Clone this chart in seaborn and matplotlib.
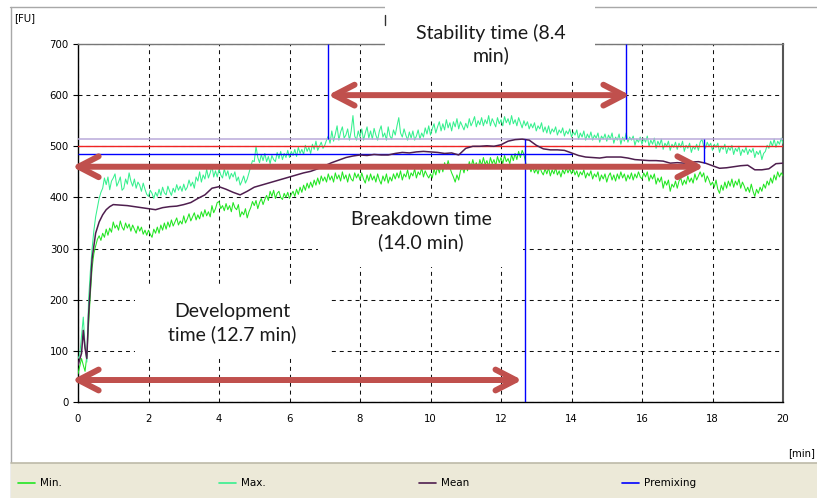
import numpy as np
import pandas as pd
import matplotlib
matplotlib.use("Agg")
import matplotlib.pyplot as plt
import seaborn as sns
from matplotlib.lines import Line2D
from matplotlib.patches import Rectangle

# ---------------- data ----------------
SAMPLE_STEP = 0.05  # minutes between Min./Max. samples

max_vals = [
    85, 92, 130, 166, 110, 78, 200, 255, 300, 335, 362, 380, 398, 410, 418, 438, 425, 440, 415, 432,        # 0
    438, 446, 422, 430, 440, 414, 418, 436, 426, 448, 432, 422, 436, 418, 430, 424, 412, 428, 416, 406,     # 1
    402, 414, 408, 398, 410, 402, 416, 404, 420, 409, 405, 422, 412, 404, 418, 410, 425, 414, 422, 412,     # 2
    426, 414, 420, 434, 422, 430, 418, 440, 432, 450, 430, 444, 436, 455, 438, 448, 462, 440, 452, 440,     # 3
    455, 444, 438, 456, 442, 452, 436, 447, 440, 450, 432, 440, 424, 432, 442, 428, 436, 448, 460, 472,     # 4
    470, 500, 478, 468, 484, 472, 486, 470, 480, 466, 482, 474, 470, 488, 476, 490, 474, 486, 478, 492,     # 5
    478, 490, 482, 494, 480, 498, 486, 494, 484, 502, 490, 498, 486, 504, 494, 510, 492, 500, 508, 496,     # 6
    502, 512, 520, 506, 530, 510, 524, 540, 512, 528, 538, 516, 522, 534, 512, 530, 560, 520, 512, 530,     # 7
    518, 534, 512, 526, 538, 516, 530, 514, 535, 522, 512, 530, 540, 518, 526, 512, 538, 520, 514, 532,     # 8
    522, 540, 556, 526, 518, 534, 522, 512, 528, 516, 530, 512, 520, 532, 514, 526, 518, 536, 524, 540,     # 9
    522, 534, 544, 526, 538, 548, 530, 544, 532, 552, 536, 546, 530, 548, 538, 554, 534, 548, 540, 532,     # 10
    545, 536, 554, 540, 548, 558, 538, 550, 542, 556, 540, 552, 544, 560, 540, 554, 546, 538, 556, 544,     # 11
    552, 540, 558, 546, 554, 542, 560, 544, 552, 540, 556, 546, 536, 550, 540, 548, 534, 544, 536, 546,     # 12
    530, 540, 534, 546, 528, 538, 526, 540, 524, 534, 528, 538, 522, 532, 526, 536, 520, 530, 524, 534,     # 13
    518, 528, 522, 532, 514, 526, 518, 530, 512, 524, 516, 528, 512, 522, 516, 526, 508, 520, 514, 524,     # 14
    510, 522, 514, 526, 506, 518, 512, 524, 504, 518, 510, 526, 508, 518, 512, 520, 502, 514, 508, 518,     # 15
    504, 516, 508, 520, 500, 512, 504, 516, 496, 510, 502, 514, 494, 506, 500, 510, 492, 504, 498, 508,     # 16
    494, 506, 498, 510, 490, 502, 496, 506, 488, 500, 494, 504, 492, 508, 514, 500, 496, 508, 500, 506,     # 17
    492, 504, 498, 506, 488, 500, 494, 504, 486, 498, 492, 502, 484, 496, 490, 500, 482, 494, 488, 498,     # 18
    484, 494, 488, 496, 478, 490, 484, 492, 474, 486, 490, 502, 496, 510, 500, 514, 498, 510, 504, 516,     # 19
    505,
]

min_vals = [
    55, 70, 85, 72, 60, 90, 150, 210, 262, 290, 305, 318, 325, 316, 330, 322, 338, 326, 340, 332,           # 0
    352, 340, 346, 336, 354, 342, 336, 350, 340, 348, 334, 346, 338, 330, 344, 334, 342, 328, 336, 326,     # 1
    336, 328, 322, 338, 330, 342, 330, 346, 336, 350, 338, 352, 342, 356, 344, 352, 360, 346, 354, 348,     # 2
    364, 350, 358, 368, 354, 362, 370, 356, 366, 358, 372, 362, 376, 364, 372, 362, 384, 370, 378, 390,     # 3
    392, 378, 384, 374, 388, 376, 384, 372, 390, 380, 376, 386, 362, 372, 366, 378, 360, 372, 380, 392,     # 4
    384, 394, 378, 390, 398, 386, 396, 404, 394, 412, 402, 414, 398, 408, 412, 400, 396, 408, 400, 410,     # 5
    398, 406, 412, 402, 416, 406, 420, 410, 424, 414, 428, 418, 430, 420, 434, 424, 438, 426, 442, 432,     # 6
    440, 430, 446, 434, 442, 430, 448, 436, 444, 432, 450, 436, 444, 430, 446, 436, 432, 448, 438, 446,     # 7
    434, 448, 436, 428, 444, 432, 446, 434, 442, 430, 446, 434, 426, 442, 432, 446, 428, 440, 432, 446,     # 8
    436, 448, 438, 452, 434, 446, 440, 454, 436, 448, 442, 456, 438, 450, 444, 458, 440, 452, 444, 438,     # 9
    446, 438, 456, 444, 460, 448, 464, 450, 468, 456, 472, 458, 448, 440, 430, 444, 434, 452, 460, 448,     # 10
    464, 452, 470, 458, 474, 460, 468, 456, 474, 462, 478, 464, 472, 460, 478, 466, 474, 462, 480, 468,     # 11
    478, 466, 482, 470, 476, 466, 484, 472, 486, 474, 490, 478, 492, 484, 468, 456, 462, 450, 460, 448,     # 12
    456, 446, 460, 450, 444, 456, 446, 458, 442, 454, 446, 458, 444, 452, 440, 454, 446, 458, 448, 456,     # 13
    446, 456, 444, 452, 440, 450, 444, 454, 438, 448, 442, 452, 436, 446, 440, 450, 432, 444, 436, 446,     # 14
    430, 442, 448, 434, 444, 432, 446, 436, 450, 438, 446, 432, 444, 436, 448, 434, 446, 438, 450, 440,     # 15
    436, 448, 440, 450, 432, 444, 436, 446, 426, 438, 430, 440, 418, 432, 424, 434, 412, 426, 420, 432,     # 16
    418, 432, 438, 424, 434, 426, 442, 430, 438, 428, 446, 434, 442, 450, 440, 448, 430, 442, 434, 424,     # 17
    430, 420, 434, 416, 408, 424, 414, 430, 418, 432, 422, 436, 420, 432, 424, 436, 418, 430, 422, 412,     # 18
    420, 410, 426, 412, 402, 416, 408, 420, 412, 426, 418, 432, 424, 438, 428, 444, 434, 450, 440, 448,     # 19
    442,
]

mean_t = [0.0, 0.1, 0.15, 0.2, 0.25, 0.3, 0.4, 0.5, 0.6, 0.7, 0.8, 0.9, 1.0,
          1.2, 1.4, 1.6, 1.8, 2.0, 2.2, 2.4, 2.6, 2.8, 3.0, 3.2, 3.4, 3.6, 3.8,
          4.0, 4.2, 4.4, 4.6, 4.8, 5.0, 5.2, 5.4, 5.6, 5.8, 6.0, 6.2, 6.4, 6.6,
          6.8, 7.0, 7.2, 7.4, 7.6, 7.8, 8.0, 8.2, 8.4, 8.6, 8.8, 9.0, 9.2, 9.4,
          9.6, 9.8, 10.0, 10.2, 10.4, 10.6, 10.8, 11.0, 11.2, 11.4, 11.6, 11.8,
          12.0, 12.2, 12.4, 12.6, 12.8, 13.0, 13.2, 13.4, 13.6, 13.8, 14.0,
          14.2, 14.4, 14.6, 14.8, 15.0, 15.2, 15.4, 15.6, 15.8, 16.0, 16.2,
          16.4, 16.6, 16.8, 17.0, 17.2, 17.4, 17.6, 17.8, 18.0, 18.2, 18.4,
          18.6, 18.8, 19.0, 19.2, 19.4, 19.6, 19.8, 20.0]
mean_vals = [72, 95, 140, 105, 85, 170, 280, 330, 352, 366, 376, 382, 386,
             385, 384, 382, 380, 378, 376, 380, 382, 383, 386, 390, 398, 405, 418,
             421, 416, 410, 405, 412, 420, 424, 428, 432, 436, 440, 444, 448, 451,
             456, 462, 468, 473, 478, 481, 483, 482, 484, 483, 483, 486, 488, 487,
             489, 490, 489, 488, 486, 487, 483, 496, 500, 500, 501, 500,
             503, 510, 513, 514, 512, 502, 495, 493, 493, 492, 487,
             482, 479, 478, 477, 479, 479, 479, 477, 474, 473, 472,
             472, 471, 467, 468, 467, 469, 470, 467, 462, 457, 458,
             460, 462, 463, 454, 454, 456, 466, 467]

series_names = ["Min.", "Max.", "Mean", "Premixing"]
series_colors = ["#22E622", "#36F08E", "#4E1E4E", "#0000FF"]

# reference levels [FU]
level_values = [515, 500, 485]
level_colors = ["#B9A9DA", "#F02424", "#0000FF"]
premix_level_end = 14.0

# vertical markers: (time, from FU, to FU)
marker_times = [7.09, 15.56, 12.68, 17.76]
marker_from = [515, 515, 0, 467]
marker_to = [700, 700, 515, 515]

# annotated intervals: start, end, height
arrow_start = [7.09, -0.17, -0.17]
arrow_end = [15.66, 17.76, 12.6]
arrow_level = [600, 460, 43]
arrow_labels = ["Stability time (8.4\nmin)", "Breakdown time\n(14.0 min)",
                "Development\ntime (12.7 min)"]

x_ticks = list(range(0, 21, 2))
y_ticks = list(range(0, 701, 100))

# ---------------- figure ----------------
sns.set_style("white")
plt.rcParams['font.family'] = ['DejaVu Sans']

W, H = 817, 498
fig = plt.figure(figsize=(W / 100, H / 100), dpi=100)
fig.patch.set_facecolor("white")


def fx(px):
    return px / W


def fy(py):
    return 1 - py / H


ax = fig.add_axes([fx(78), fy(402), 705 / W, 358 / H])
ax.set_facecolor("white")

t_grid = np.round(np.arange(len(max_vals)) * SAMPLE_STEP, 2)
df = pd.DataFrame({"t": t_grid, "Min.": min_vals, "Max.": max_vals})
dfm = pd.DataFrame({"t": mean_t, "Mean": mean_vals})

sns.lineplot(data=df, x="t", y="Min.", color=series_colors[0], linewidth=0.75,
             ax=ax, zorder=3)
sns.lineplot(data=df, x="t", y="Max.", color=series_colors[1], linewidth=0.75,
             ax=ax, zorder=3)

# reference levels
ax.axhline(level_values[0], color=level_colors[0], linewidth=1.1, zorder=4)
ax.axhline(level_values[1], color=level_colors[1], linewidth=1.0, zorder=4)
ax.hlines(level_values[2], 0, premix_level_end, color=level_colors[2],
          linewidth=1.0, zorder=4)

sns.lineplot(data=dfm, x="t", y="Mean", color=series_colors[2], linewidth=1.1,
             ax=ax, zorder=5)

ax.vlines(marker_times, marker_from, marker_to, color="#0000FF", linewidth=1.0,
          zorder=6)

ax.set_xlim(0, 20)
ax.set_ylim(0, 700)
ax.set_xticks(x_ticks)
ax.set_yticks(y_ticks)
ax.set_xlabel("")
ax.set_ylabel("")
ax.grid(True, color="#111111", linestyle=(0, (3.8, 3.8)), linewidth=0.75)
ax.set_axisbelow(True)
ax.tick_params(axis="y", length=3.6, width=0.8, color="black", pad=3,
               labelsize=7.3, labelcolor="black", direction="out", left=True)
ax.tick_params(axis="x", length=0, pad=8.5, labelsize=7.3, labelcolor="black")

for s in ["left", "bottom"]:
    ax.spines[s].set_color("black")
    ax.spines[s].set_linewidth(1.0)
ax.spines["top"].set_color("#777777")
ax.spines["top"].set_linewidth(1.0)
ax.spines["right"].set_color("#555555")
ax.spines["right"].set_linewidth(1.5)

# interval arrows
for x0, x1, yv in zip(arrow_start, arrow_end, arrow_level):
    ax.annotate("", xy=(x1, yv), xytext=(x0, yv),
                arrowprops=dict(arrowstyle="<->,head_length=1.45,head_width=0.75",
                                color="#C0504D", lw=4.3, shrinkA=0, shrinkB=0),
                annotation_clip=False, zorder=7)

# ---------------- overlay boxes and labels ----------------
boxes = [(385, 0, 595, 80), (318, 198, 523, 267), (135, 287, 330, 358)]
centers = [(491, 44), (421, 231), (232, 323)]
for (x0, y0, x1, y1), (cx, cy), lab in zip(boxes, centers, arrow_labels):
    fig.add_artist(Rectangle((fx(x0), fy(y1)), (x1 - x0) / W, (y1 - y0) / H,
                             transform=fig.transFigure, facecolor="white",
                             edgecolor="none", zorder=10))
    fig.text(fx(cx), fy(cy), lab, ha="center", va="center", fontsize=14,
             family=["Lato", "DejaVu Sans"], color="#1a1a1a",
             linespacing=1.33, zorder=11)

# small leftover mark near the top
fig.add_artist(Line2D([fx(384.5), fx(384.5)], [fy(15), fy(25)],
                      transform=fig.transFigure, color="#333333", lw=1.0,
                      zorder=12))

# outer frame
fig.add_artist(Line2D([fx(10), fx(817)], [fy(7.5), fy(7.5)],
                      transform=fig.transFigure, color="#A8A8A8", lw=1.0,
                      zorder=1))
fig.add_artist(Line2D([fx(10.5), fx(10.5)], [fy(7.5), fy(498)],
                      transform=fig.transFigure, color="#A8A8A8", lw=1.0,
                      zorder=1))

# legend band
fig.add_artist(Rectangle((fx(11), 0), (W - 11) / W, 35 / H,
                         transform=fig.transFigure, facecolor="#ECE9D8",
                         edgecolor="none", zorder=1))
fig.add_artist(Line2D([fx(11), fx(817)], [fy(463), fy(463)],
                      transform=fig.transFigure, color="#BDBAA8", lw=1.2,
                      zorder=2))

legend_line_x = [18, 219, 419, 622]
for name, col, lx in zip(series_names, series_colors, legend_line_x):
    fig.add_artist(Line2D([fx(lx), fx(lx + 17)], [fy(483), fy(483)],
                          transform=fig.transFigure, color=col, lw=1.2,
                          zorder=3))
    fig.text(fx(lx + 22), fy(483), name, ha="left", va="center",
             fontsize=7.5, color="black", zorder=3)

fig.text(fx(14), fy(18), "[FU]", ha="left", va="center", fontsize=7.3,
         color="black")
fig.text(fx(815), fy(453), "[min]", ha="right", va="center", fontsize=7.3,
         color="black")

fig.savefig("out.png", dpi=100, facecolor="white")
